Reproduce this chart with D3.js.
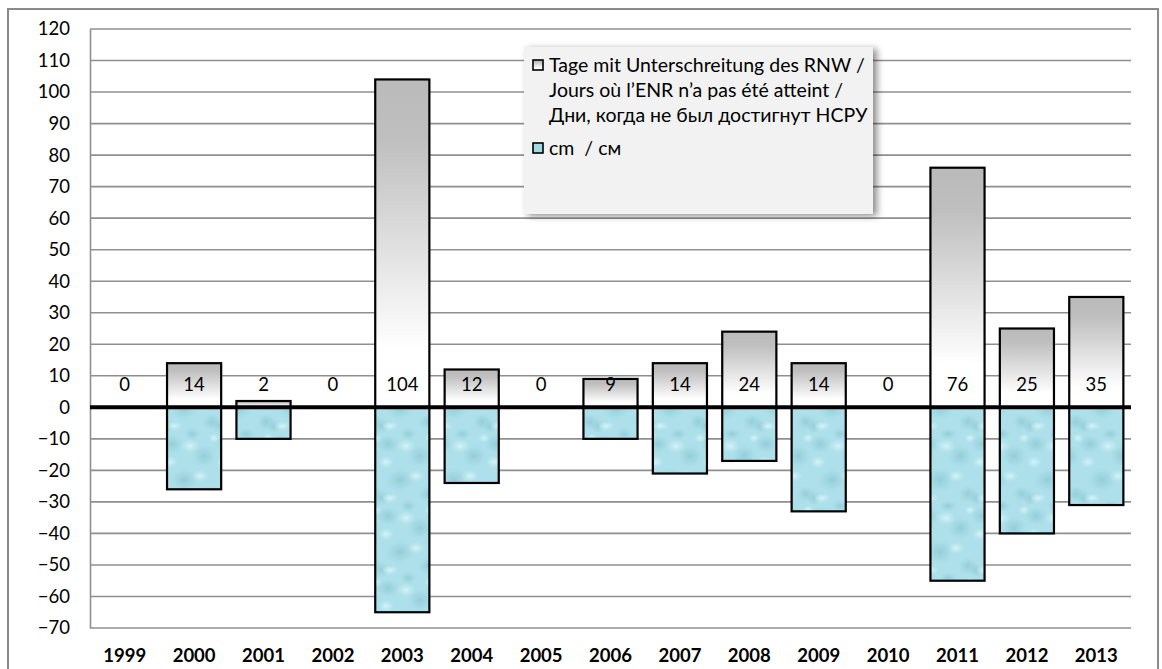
<!DOCTYPE html>
<html>
<head>
<meta charset="utf-8">
<script src="https://cdn.jsdelivr.net/npm/d3@7"></script>
<style>
  html, body { margin: 0; padding: 0; background: #fff; }
  svg { display: block; font-family: Lato, "Open Sans", sans-serif; }
</style>
</head>
<body>
<svg id="chart" width="1162" height="669"></svg>
<script>
// Years on the category axis
const years = ["1999","2000","2001","2002","2003","2004","2005","2006","2007","2008","2009","2010","2011","2012","2013"];
// Days below the reference low water level (RNW / ENR / НСРУ)
const daysBelow = [0, 14, 2, 0, 104, 12, 0, 9, 14, 24, 14, 0, 76, 25, 35];
// Lowest water level relative to RNW, in cm
const cmBelow = [0, -26, -10, 0, -65, -24, 0, -10, -21, -17, -33, 0, -55, -40, -31];
// Value axis ticks
const yTicks = [-70, -60, -50, -40, -30, -20, -10, 0, 10, 20, 30, 40, 50, 60, 70, 80, 90, 100, 110, 120];
// Legend entries
const legendDays = ["Tage mit Unterschreitung des RNW /", "Jours où l’ENR n’a pas été atteint /", "Дни, когда не был достигнут НСРУ"];
const legendCm = "cm  / см";

const svg = d3.select("#chart");
const plot = { left: 90, right: 1131, top: 29, bottom: 628 };

const x = d3.scaleBand().domain(years).range([plot.left, plot.right]).paddingInner(0.22).paddingOuter(0.11);
const y = d3.scaleLinear().domain([-70, 120]).range([plot.bottom, plot.top]);

const defs = svg.append("defs");

// Grey fading fill for the day bars
const gGrey = defs.append("linearGradient").attr("id", "greyFade").attr("x1", 0).attr("y1", 0).attr("x2", 0).attr("y2", 1);
gGrey.append("stop").attr("offset", 0).attr("stop-color", "#bababa");
gGrey.append("stop").attr("offset", 0.18).attr("stop-color", "#bfbfbf");
gGrey.append("stop").attr("offset", 0.82).attr("stop-color", "#ffffff");
gGrey.append("stop").attr("offset", 1).attr("stop-color", "#ffffff");

// Watery texture for the cm bars
const drop = defs.append("radialGradient").attr("id", "dropDark");
drop.append("stop").attr("offset", 0).attr("stop-color", "#8ac6d3").attr("stop-opacity", 0.75);
drop.append("stop").attr("offset", 0.6).attr("stop-color", "#98d0dc").attr("stop-opacity", 0.35);
drop.append("stop").attr("offset", 1).attr("stop-color", "#a6dbe6").attr("stop-opacity", 0);
const shine = defs.append("radialGradient").attr("id", "dropLight");
shine.append("stop").attr("offset", 0).attr("stop-color", "#dff6fa").attr("stop-opacity", 0.85);
shine.append("stop").attr("offset", 1).attr("stop-color", "#c8eff5").attr("stop-opacity", 0);

const tileW = 54, tileH = 72;
const pat = defs.append("pattern").attr("id", "water").attr("patternUnits", "userSpaceOnUse")
  .attr("width", tileW).attr("height", tileH);
pat.append("rect").attr("width", tileW).attr("height", tileH).attr("fill", "#ade0ea");
const darkSpots = [[10, 12, 12, 10], [42, 24, 13, 12], [22, 48, 15, 13], [50, 62, 10, 9], [4, 66, 8, 8], [30, 2, 9, 6]];
const lightSpots = [[28, 14, 10, 7], [8, 30, 8, 6], [38, 44, 9, 6], [12, 66, 9, 5], [52, 6, 6, 5]];
// each spot is repeated across the tile edges so the texture wraps seamlessly
function spots(list, fill) {
  list.forEach(([cx, cy, rx, ry]) => {
    [-tileW, 0, tileW].forEach(dx => [-tileH, 0, tileH].forEach(dy => {
      pat.append("ellipse").attr("cx", cx + dx).attr("cy", cy + dy).attr("rx", rx).attr("ry", ry).attr("fill", fill);
    }));
  });
}
spots(darkSpots, "url(#dropDark)");
spots(lightSpots, "url(#dropLight)");

// Legend shadow
const sh = defs.append("filter").attr("id", "legendShadow").attr("x", "-10%").attr("y", "-20%").attr("width", "125%").attr("height", "140%");
sh.append("feDropShadow").attr("dx", 4).attr("dy", 2).attr("stdDeviation", 3.5).attr("flood-color", "#000").attr("flood-opacity", 0.45);

// Outer frame
svg.append("rect").attr("x", 8).attr("y", 9).attr("width", 1150).attr("height", 680)
  .attr("fill", "none").attr("stroke", "#8a8a8a").attr("stroke-width", 2);

// Gridlines
svg.append("g").selectAll("line").data(yTicks).join("line")
  .attr("x1", plot.left).attr("x2", plot.right)
  .attr("y1", d => y(d)).attr("y2", d => y(d))
  .attr("stroke", "#8f8f8f").attr("stroke-width", 1.6);

// Value axis
const yAxis = svg.append("g").attr("transform", `translate(${plot.left},0)`)
  .call(d3.axisLeft(y).tickValues(yTicks).tickSize(0).tickPadding(20));
yAxis.select(".domain").attr("stroke", "#8f8f8f").attr("stroke-width", 1.6);
yAxis.selectAll("text").attr("font-size", 18.5).attr("fill", "#000").attr("font-family", "Lato, sans-serif");

// Category axis labels
const xAxis = svg.append("g").attr("transform", `translate(0,${plot.bottom})`)
  .call(d3.axisBottom(x).tickSize(0).tickPadding(21));
xAxis.select(".domain").remove();
xAxis.selectAll("text").attr("font-size", 18.5).attr("font-weight", "bold").attr("fill", "#000").attr("font-family", "Lato, sans-serif");

// Day bars
svg.append("g").selectAll("rect").data(years.map((yr, i) => ({ yr, v: daysBelow[i] })).filter(d => d.v > 0)).join("rect")
  .attr("x", d => x(d.yr)).attr("width", x.bandwidth())
  .attr("y", d => y(d.v)).attr("height", d => y(0) - y(d.v))
  .attr("fill", "url(#greyFade)").attr("stroke", "#000").attr("stroke-width", 2.2);

// cm bars
svg.append("g").selectAll("rect").data(years.map((yr, i) => ({ yr, v: cmBelow[i] })).filter(d => d.v < 0)).join("rect")
  .attr("x", d => x(d.yr)).attr("width", x.bandwidth())
  .attr("y", y(0)).attr("height", d => y(d.v) - y(0))
  .attr("fill", "url(#water)").attr("stroke", "#000").attr("stroke-width", 2.2);

// Zero line
svg.append("line").attr("x1", plot.left).attr("x2", plot.right).attr("y1", y(0)).attr("y2", y(0))
  .attr("stroke", "#000").attr("stroke-width", 4);

// Day counts at the base of each bar
svg.append("g").selectAll("text").data(years.map((yr, i) => ({ yr, v: daysBelow[i] }))).join("text")
  .attr("x", d => x(d.yr) + x.bandwidth() / 2).attr("y", y(0) - 16)
  .attr("text-anchor", "middle").attr("font-size", 18.5).attr("fill", "#000")
  .text(d => d.v);

// Legend
const lg = svg.append("g");
lg.append("rect").attr("x", 524).attr("y", 47).attr("width", 349).attr("height", 167)
  .attr("fill", "#f2f2f2").attr("filter", "url(#legendShadow)");
lg.append("rect").attr("x", 533).attr("y", 60).attr("width", 10).attr("height", 10)
  .attr("fill", "url(#greyFade)").attr("stroke", "#000").attr("stroke-width", 1.6);
lg.selectAll("text.days").data(legendDays).join("text").attr("class", "days")
  .attr("x", 549).attr("y", (d, i) => 72 + i * 25)
  .attr("font-size", 19.5).attr("fill", "#000").text(d => d);
lg.append("rect").attr("x", 533).attr("y", 143).attr("width", 10).attr("height", 10)
  .attr("fill", "#9fd9e6").attr("stroke", "#000").attr("stroke-width", 1.6);
lg.append("text").attr("x", 549).attr("y", 155).attr("font-size", 19.5).attr("fill", "#000")
  .style("white-space", "pre").text(legendCm);
</script>
</body>
</html>
